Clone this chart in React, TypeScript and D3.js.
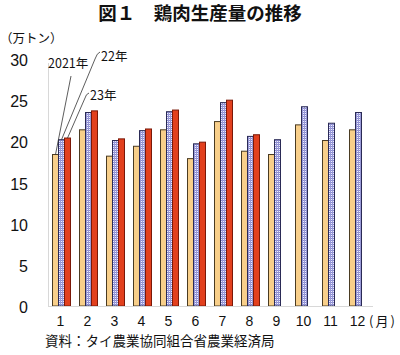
import React from "react";
import * as d3 from "d3";

const months = ["1", "2", "3", "4", "5", "6", "7", "8", "9", "10", "11", "12"];
const v2021 = [18.4, 21.4, 18.2, 19.4, 21.4, 17.9, 22.4, 18.8, 18.4, 22.0, 20.1, 21.4];
const v2022 = [20.2, 23.5, 20.1, 21.3, 23.6, 19.7, 24.7, 20.6, 20.2, 24.2, 22.2, 23.5];
const v2023 = [20.4, 23.7, 20.3, 21.5, 23.8, 19.9, 25.0, 20.8];
const yTicks = [0, 5, 10, 15, 20, 25, 30];

const W = 400;
const H = 355;
const FONT_NUM = "'Liberation Sans', Arial, sans-serif";
const FONT_JP = "'Noto Sans CJK JP', 'Noto Sans', sans-serif";

export default function App() {
  const x = d3.scaleBand<string>().domain(months).range([48, 372]).padding(0);
  const y = d3.scaleLinear().domain([0, 30]).range([306, 59]);
  const bw = 6;
  const off = (x.bandwidth() - bw * 3) / 2;

  const series = [
    { vals: v2021, fill: "#F8CF8A", stroke: "#4a3b22", idx: 0 },
    { vals: v2022, fill: "url(#check)", stroke: "#2a2a55", idx: 1 },
    { vals: v2023, fill: "#E2401E", stroke: "#7a1808", idx: 2 },
  ];

  const barX = (i: number, s: number) => (x(months[i]) as number) + off + s * bw;

  const p21 = [barX(0, 0) + bw / 2, y(v2021[0])];
  const p22 = [barX(0, 1) + bw / 2, y(v2022[0])];
  const p23 = [barX(0, 2) + bw / 2, y(v2023[0])];

  return (
    <svg
      width={W}
      height={H}
      style={{ position: "absolute", left: 0, top: 0, background: "#fff" }}
    >
      <defs>
        <pattern id="check" width="2" height="2" patternUnits="userSpaceOnUse">
          <rect width="2" height="2" fill="#eef0ff" />
          <rect width="2" height="1" fill="#8a8ad0" />
          <rect width="1" height="2" fill="#9a9ad8" />
        </pattern>
      </defs>
      <rect width={W} height={H} fill="#fff" />
      <text
        x={200}
        y={20}
        textAnchor="middle"
        fontFamily={FONT_JP}
        fontWeight="bold"
        fontSize={18.5}
        fill="#111"
      >
        図１　鶏肉生産量の推移
      </text>
      <text x={0} y={43} fontFamily={FONT_JP} fontSize={12.5} fill="#111">
        （万トン）
      </text>
      <line x1={48.5} x2={48.5} y1={y(30) + 4} y2={y(0)} stroke="#d8d8d8" strokeWidth={1} />
      {yTicks.map((t) => (
        <text
          key={t}
          x={28}
          y={y(t) + 7}
          textAnchor="end"
          fontFamily={FONT_NUM}
          fontSize={16}
          fill="#111"
        >
          {t}
        </text>
      ))}
      {series.map((s) =>
        s.vals.map((v, i) => (
          <rect
            key={`${s.idx}-${i}`}
            x={barX(i, s.idx)}
            y={y(v)}
            width={bw}
            height={y(0) - y(v)}
            fill={s.fill}
            stroke={s.stroke}
            strokeWidth={1}
          />
        ))
      )}
      <line x1={48} x2={373} y1={306.5} y2={306.5} stroke="#d8d8d8" strokeWidth={1} />
      {months.map((m) => (
        <text
          key={m}
          x={(x(m) as number) + x.bandwidth() / 2 - 1}
          y={326}
          textAnchor="middle"
          fontFamily={FONT_NUM}
          fontSize={14}
          fill="#111"
        >
          {m}
        </text>
      ))}
      <text x={369} y={326} fontFamily={FONT_JP} fontSize={13} letterSpacing={2} fill="#111">
        (月)
      </text>
      <text x={45} y={346} fontFamily={FONT_JP} fontSize={13.5} fill="#111">
        資料：タイ農業協同組合省農業経済局
      </text>
      <text x={48} y={68} fontFamily={FONT_JP} fontSize={12.5} fill="#111">
        2021年
      </text>
      <text x={101} y={61} fontFamily={FONT_JP} fontSize={12.5} fill="#111">
        22年
      </text>
      <text x={90} y={100} fontFamily={FONT_JP} fontSize={12.5} fill="#111">
        23年
      </text>
      <path d={`M${p21[0]},${p21[1]} L71,76`} fill="none" stroke="#333" strokeWidth={0.8} />
      <path
        d={`M${p22[0]},${p22[1]} L95,59 Q97,53 100,52`}
        fill="none"
        stroke="#333"
        strokeWidth={0.8}
      />
      <path
        d={`M${p23[0]},${p23[1]} L85,98 Q86,94 89,93`}
        fill="none"
        stroke="#333"
        strokeWidth={0.8}
      />
    </svg>
  );
}
